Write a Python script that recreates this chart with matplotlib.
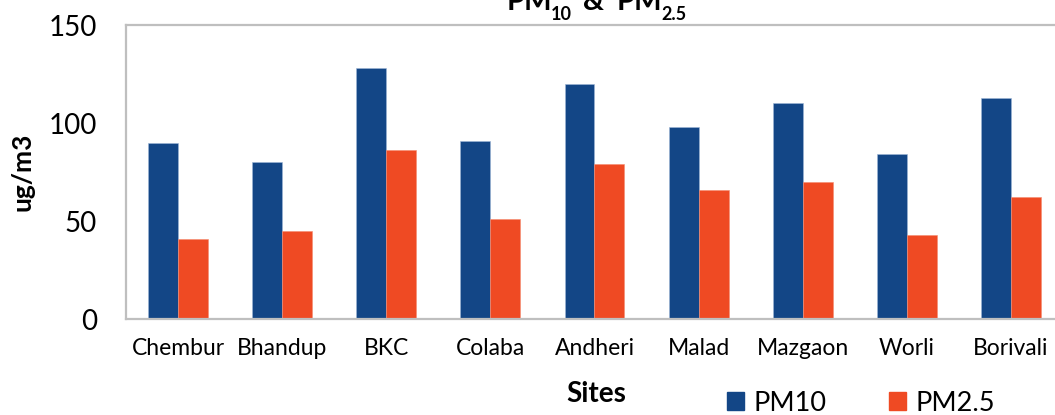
import matplotlib.pyplot as plt
import numpy as np
from matplotlib.patches import Patch

plt.rcParams['font.family'] = ['Lato', 'DejaVu Sans']

sites = ['Chembur', 'Bhandup', 'BKC', 'Colaba', 'Andheri', 'Malad', 'Mazgaon', 'Worli', 'Borivali']
pm10 = [90, 80, 128, 91, 120, 98, 110, 84, 113]
pm25 = [41, 45, 86, 51, 79, 66, 70, 43, 62]

blue = '#134686'
orange = '#ef4a23'
grid_grey = '#bfbfbf'

W, H = 1055, 415
fig = plt.figure(figsize=(W / 100, H / 100), dpi=100)
ax = fig.add_axes([126 / W, 1 - 319 / H, 937 / W, 294 / H])

x = np.arange(len(sites))
w = 0.288
ax.bar(x - w / 2, pm10, w, color=blue, edgecolor='#9fb6d6', linewidth=0.4, label='PM10')
ax.bar(x + w / 2, pm25, w, color=orange, edgecolor='#f58b70', linewidth=0.4, label='PM2.5')

ax.set_xlim(-0.5, len(sites) - 0.5)
ax.set_ylim(0, 150)
ax.set_yticks([0, 50, 100, 150])
ax.set_xticks(x)
ax.set_xticklabels(sites, fontsize=16.5)
ax.tick_params(axis='y', length=0, pad=21, labelsize=20)
ax.tick_params(axis='x', length=0, pad=14)

for side in ['left', 'bottom', 'top']:
    ax.spines[side].set_color(grid_grey)
    ax.spines[side].set_linewidth(1.6)
ax.spines['right'].set_visible(False)

fig.text(22 / W, 1 - 172 / H, 'ug/m3', fontsize=19, fontweight='bold',
         rotation=90, ha='center', va='center')
fig.text(596 / W, 1 - 394 / H, 'Sites', fontsize=20, fontweight='bold', ha='center', va='center')

# title pieces with lowered subscripts, partly above the top edge
title_parts = [('PM', 507, 10, 21), ('10', 551, 20, 13), ('&', 583, 10, 21),
               ('PM', 617, 10, 21), ('2.5', 661, 20, 13)]
for txt, px, py, fs in title_parts:
    fig.text(px / W, 1 - py / H, txt, fontsize=fs, fontweight='bold', ha='left', va='baseline')

handles = [Patch(color=blue, label='PM10'), Patch(color=orange, label='PM2.5')]
fig.legend(handles=handles, loc='center', bbox_to_anchor=(861 / W, 1 - 403 / H),
           ncol=2, frameon=False, fontsize=19.5, handlelength=0.63, handleheight=0.63,
           handletextpad=0.35, columnspacing=2.3, borderpad=0)

fig.savefig('out.png', dpi=100)
